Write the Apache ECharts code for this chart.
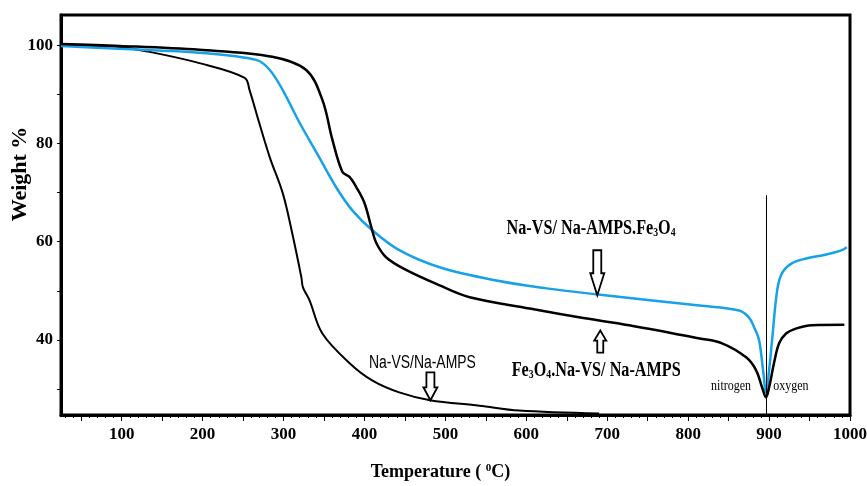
<!DOCTYPE html>
<html><head><meta charset="utf-8">
<script src="https://cdn.jsdelivr.net/npm/echarts@6/dist/echarts.min.js"></script>
<style>html,body{margin:0;padding:0;background:#fff}#c{width:867px;height:486px}</style>
</head><body><div id="c"></div>
<script>
// Na-VS/Na-AMPS (thin black)
const tempsA = [25, 97, 134, 196, 252, 258, 270, 283, 299, 310, 322, 324, 332, 348, 382, 410, 443, 481, 542, 591, 690];
const weightsA = [100.1, 99.7, 98.7, 96.4, 93.4, 90.9, 84.2, 77.2, 69.9, 62.3, 52.8, 50.7, 48.1, 41.3, 35.2, 31.7, 29.3, 27.7, 26.6, 25.6, 25.0];
// Na-VS/ Na-AMPS.Fe3O4 (blue)
const tempsB = [25, 97.5, 196, 267, 283, 299, 320, 341, 365, 385, 410, 443, 493, 563, 625, 686, 814, 863, 875, 881.5, 887.7, 892.6, 896.3, 900, 903.7, 910, 916, 928, 946, 968, 990, 996];
const weightsB = [99.9, 99.3, 98.5, 97.0, 95.0, 90.9, 84.2, 78.1, 71.1, 66.4, 62.3, 58.3, 54.8, 52.1, 50.5, 49.3, 47.0, 46.0, 44.6, 42.6, 39.9, 33.8, 29.3, 33.8, 39.9, 50.1, 53.6, 55.6, 56.6, 57.3, 58.3, 58.9];
// Fe3O4.Na-VS/ Na-AMPS (thick black)
const tempsC = [25, 97.5, 196, 286, 328, 348, 360.5, 372.8, 381.5, 390, 400, 408.6, 414.8, 427, 452, 493, 530, 604, 665, 727, 814, 842, 872, 884, 891.4, 896.3, 900, 906, 912.4, 921, 933, 953, 993];
const weightsC = [100.3, 99.9, 99.1, 97.7, 95.0, 88.9, 80.7, 74.2, 73.2, 71.1, 67.9, 62.9, 59.7, 56.8, 54.2, 51.1, 48.7, 46.4, 44.6, 43.0, 40.3, 39.3, 36.4, 33.8, 30.3, 28.3, 30.3, 35.2, 39.3, 41.3, 42.3, 43.0, 43.1];

const xTickLabels = [100, 200, 300, 400, 500, 600, 700, 800, 900, 1000];
const yTickLabels = [40, 60, 80, 100];

const ticks50 = []; for (let v = 50; v <= 1000; v += 50) ticks50.push(v);
const ticks10 = []; for (let v = 30; v <= 1000; v += 10) ticks10.push(v);
const yTicks = [30, 40, 50, 60, 70, 80, 90, 100];

const serif = '"Liberation Serif", "Times New Roman", serif';
const pair = (t, w) => t.map((v, i) => [v, w[i]]);

const chart = echarts.init(document.getElementById('c'), null, {renderer: 'canvas'});
chart.setOption({
  animation: false,
  backgroundColor: '#fff',
  grid: {left: 61, right: 17, top: 15, bottom: 71, containLabel: false, outerBoundsMode: 'none',
         show: true, borderColor: '#000', borderWidth: 3},
  xAxis: [{
    type: 'value', min: 25, max: 1000, position: 'bottom',
    axisLine: {show: true, onZero: false, lineStyle: {color: '#000', width: 3}},
    axisTick: {show: true, customValues: ticks50, length: 6, lineStyle: {color: '#000', width: 1}},
    axisLabel: {customValues: xTickLabels, formatter: v => String(v), hideOverlap: false,
                fontFamily: serif, fontWeight: 'bold', fontSize: 17, color: '#000', margin: 11},
    splitLine: {show: false},
    name: '{a|Temperature ( }{s|0}{a|C)}', nameLocation: 'middle', nameGap: 48,
    nameTextStyle: {padding: [0, 30, 0, 0], rich: {
      a: {fontFamily: serif, fontWeight: 'bold', fontSize: 18, color: '#000'},
      s: {fontFamily: serif, fontWeight: 'bold', fontSize: 11, color: '#000', verticalAlign: 'top'}}}
  }, {
    type: 'value', min: 25, max: 1000, position: 'bottom',
    axisLine: {show: false},
    axisTick: {show: true, customValues: ticks10, length: 3, lineStyle: {color: '#000', width: 1}},
    axisLabel: {show: false}, splitLine: {show: false}
  }],
  yAxis: {
    type: 'value', min: 24.7, max: 106.2,
    axisLine: {show: true, onZero: false, lineStyle: {color: '#000', width: 3}},
    axisTick: {show: true, customValues: yTicks, length: 4, lineStyle: {color: '#000', width: 1}},
    axisLabel: {customValues: yTickLabels, formatter: v => String(v),
                fontFamily: serif, fontWeight: 'bold', fontSize: 17, color: '#000', margin: 8},
    splitLine: {show: false},
    name: 'Weight %', nameLocation: 'middle', nameGap: 30, nameRotate: 90, nameMoveOverlap: false,
    nameTextStyle: {fontFamily: serif, fontWeight: 'bold', fontSize: 22, color: '#000', padding: [0, 0, 0, 82]}
  },
  series: [
    {name: 'Na-VS/Na-AMPS', type: 'line', data: pair(tempsA, weightsA), showSymbol: false, smooth: 0.35,
     lineStyle: {color: '#000', width: 2}},
    {name: 'Na-VS/ Na-AMPS.Fe3O4', type: 'line', data: pair(tempsB, weightsB), showSymbol: false, smooth: 0.35,
     lineStyle: {color: '#17a1e6', width: 2.5}},
    {name: 'Fe3O4.Na-VS/ Na-AMPS', type: 'line', data: pair(tempsC, weightsC), showSymbol: false, smooth: 0.35,
     lineStyle: {color: '#000', width: 2.5},
     markLine: {silent: true, symbol: 'none', label: {show: false}, lineStyle: {color: '#000', width: 1, type: 'solid'},
       data: [[{coord: [896.3, 69.5]}, {coord: [896.3, 24.7]}]]}}
  ]
});

const P = (t, w) => chart.convertToPixel({xAxisIndex: 0, yAxisIndex: 0}, [t, w]);
function arrow(t, w, dir, len, head, sw, hw) {
  const [x, y] = P(t, w);
  const s = dir; // 1 = pointing down (tip at bottom), -1 = pointing up
  const pts = [[-sw, -len], [sw, -len], [sw, -head], [hw, -head], [0, 0], [-hw, -head], [-sw, -head]]
    .map(p => [x + p[0], y + p[1] * s]);
  return {type: 'polygon', shape: {points: pts}, style: {fill: '#fff', stroke: '#000', lineWidth: 1.8}, z: 100};
}
const serifRich = {
  a: {fontFamily: serif, fontWeight: 'bold', fontSize: 20, color: '#000'},
  s: {fontFamily: serif, fontWeight: 'bold', fontSize: 12, color: '#000', verticalAlign: 'bottom'}
};
function txt(t, w, text, rich, sx) {
  const [x, y] = P(t, w);
  return {type: 'text', x: x, y: y, scaleX: sx, z: 100,
    style: {text: text, rich: rich, align: 'center', verticalAlign: 'middle'}};
}
chart.setOption({graphic: [
  arrow(687.7, 49.1, 1, 45, 22, 4, 7),
  arrow(691.4, 41.9, -1, 22, 10, 3, 6),
  arrow(481.5, 27.7, 1, 28, 13, 4, 7),
  txt(680, 62.6, '{a|Na-VS/ Na-AMPS.Fe}{s|3}{a|O}{s|4}', serifRich, 0.81),
  txt(686.4, 33.6, '{a|Fe}{s|3}{a|O}{s|4}{a|.Na-VS/ Na-AMPS}', serifRich, 0.81),
  txt(471.6, 35.2, '{b|Na-VS/Na-AMPS}', {b: {fontFamily: '"Liberation Sans", sans-serif', fontSize: 18, color: '#000'}}, 0.775),
  txt(853, 30.5, '{c|nitrogen}', {c: {fontFamily: serif, fontSize: 15, color: '#000'}}, 0.8),
  txt(927, 30.5, '{c|oxygen}', {c: {fontFamily: serif, fontSize: 15, color: '#000'}}, 0.8)
]});
</script>
</body></html>
